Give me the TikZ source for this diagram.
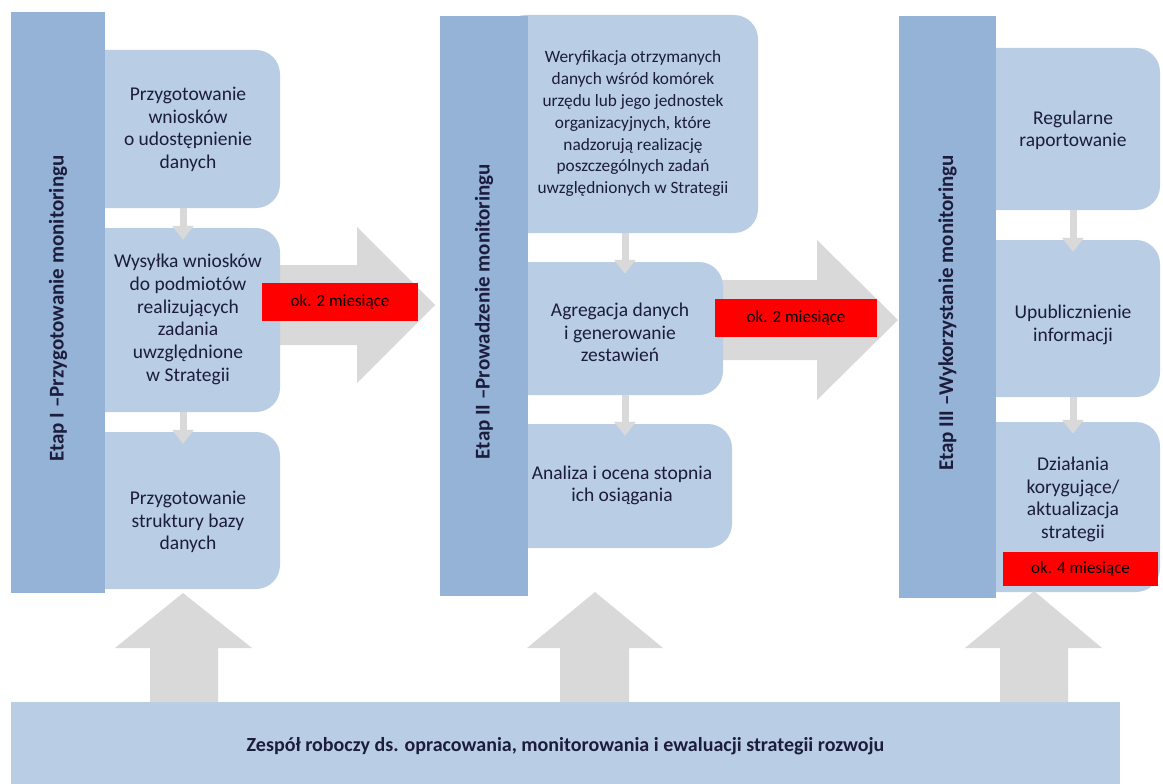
\documentclass[tikz,border=0pt]{standalone}
\usepackage{fontspec}
\setmainfont{Carlito}
\usetikzlibrary{arrows.meta}
\definecolor{stagec}{HTML}{95B3D7}
\definecolor{boxc}{HTML}{B9CDE5}
\definecolor{arrc}{HTML}{D9D9D9}
\definecolor{txtc}{HTML}{1C1C3C}
\definecolor{redc}{HTML}{FF0000}
% text block: leading kern #1 shifts it by #1/2 sideways, #2 raises it
\newcommand\boxtext[3]{\hspace*{#1}\raisebox{#2}[\height][\depth]{\begin{tabular}{@{}c@{}}#3\end{tabular}}}
\tikzset{
  stagebar/.style={fill=stagec, draw=none, rotate=90, inner sep=0pt, text=txtc,
    font=\bfseries\fontsize{21}{25}\selectfont},
  stepbox/.style={fill=boxc, draw=none, rounded corners=24pt, inner sep=0pt,
    text=txtc, font=\fontsize{19.5}{22.8}\selectfont},
  smallbox/.style={stepbox, font=\fontsize{17.3}{21.8}\selectfont},
  redlabel/.style={fill=redc, draw=none, inner sep=0pt, text=black,
    font=\fontsize{17}{20}\selectfont},
  smallarrow/.style={draw=arrc, line width=7pt, -{Triangle[width=21pt,length=14pt]}, shorten >=-12pt},
  bigarrow/.style={fill=arrc, draw=none},
  teambar/.style={fill=boxc, draw=none, inner sep=0pt, text=txtc,
    font=\bfseries\fontsize{20}{24}\selectfont},
}
\begin{document}
\begin{tikzpicture}[x=1pt,y=-1pt]
\useasboundingbox (0,0) rectangle (1163,784);
\fill[white] (0,0) rectangle (1163,784);
% big block arrows between stages
\fill[bigarrow] (270,265) -- (357,265) -- (357,227) -- (435,305) -- (357,383) -- (357,345) -- (270,345) -- cycle;
\fill[bigarrow] (700,280) -- (817,280) -- (817,240) -- (898,320) -- (817,400) -- (817,360) -- (700,360) -- cycle;
% stage I boxes (left part hidden behind the stage bar)
\node[stepbox, minimum width=201pt, minimum height=158pt] (L1) at (179.5,129) {\boxtext{17pt}{-1pt}{Przygotowanie\\wniosków\\o udostępnienie\\danych}};
\node[stepbox, minimum width=201pt, minimum height=184pt] (L2) at (179.5,320) {\boxtext{17pt}{0pt}{Wysyłka wniosków\\do podmiotów\\realizujących\\zadania\\uwzględnione\\w Strategii}};
\node[stepbox, minimum width=201pt, minimum height=157pt] (L3) at (179.5,510.5) {\boxtext{17pt}{-12pt}{Przygotowanie\\struktury bazy\\danych}};
% stage II boxes
\node[smallbox, minimum width=256pt, minimum height=218pt] (M1) at (630,124) {\boxtext{6pt}{0pt}{Weryfikacja otrzymanych\\danych wśród komórek\\urzędu lub jego jednostek\\organizacyjnych, które\\nadzorują realizację\\poszczególnych zadań\\uwzględnionych w Strategii}};
\node[stepbox, minimum width=221pt, minimum height=133pt] (M2) at (612.5,328.5) {\boxtext{15pt}{-6pt}{Agregacja danych\\i generowanie\\zestawień}};
\node[stepbox, minimum width=230pt, minimum height=124pt] (M3) at (617,486) {\boxtext{10pt}{0pt}{Analiza i ocena stopnia\\ich osiągania}};
% stage III boxes
\node[stepbox, minimum width=190pt, minimum height=162pt] (R1) at (1065,129) {\boxtext{16pt}{-2pt}{Regularne\\raportowanie}};
\node[stepbox, minimum width=190pt, minimum height=157pt] (R2) at (1065,318.5) {\boxtext{16pt}{-7pt}{Upublicznienie\\informacji}};
\node[stepbox, minimum width=190pt, minimum height=170pt] (R3) at (1065,507) {\boxtext{16pt}{7pt}{Działania\\korygujące/\\aktualizacja\\strategii}};
% stage bars
\node[stagebar, minimum width=581pt, minimum height=94pt] (S1) at (58,302.5) {\hspace*{-12pt}Etap I –Przygotowanie monitoringu};
\node[stagebar, minimum width=580pt, minimum height=88pt] (S2) at (484,306) {\hspace*{-11pt}Etap II –Prowadzenie monitoringu};
\node[stagebar, minimum width=582pt, minimum height=97pt] (S3) at (947.5,307) {\hspace*{-12pt}Etap III –Wykorzystanie monitoringu};
% small arrows between steps
\draw[smallarrow] (183,0 |- L1.south) -- (183,0 |- L2.north);
\draw[smallarrow] (183,0 |- L2.south) -- (183,0 |- L3.north);
\draw[smallarrow] (625,0 |- M1.south) -- (625,0 |- M2.north);
\draw[smallarrow] (625,0 |- M2.south) -- (625,0 |- M3.north);
\draw[smallarrow] (1073,0 |- R1.south) -- (1073,0 |- R2.north);
\draw[smallarrow] (1073,0 |- R2.south) -- (1073,0 |- R3.north);
% red duration labels
\node[redlabel, minimum width=156pt, minimum height=38pt] (D1) at (340,302) {ok. 2 miesiące};
\node[redlabel, minimum width=162pt, minimum height=38pt] (D2) at (796,318) {ok. 2 miesiące};
\node[redlabel, minimum width=155pt, minimum height=34pt] (D3) at (1080.5,569) {ok. 4 miesiące};
% bottom bar
\node[teambar, minimum width=1109pt, minimum height=88pt] (T) at (565.5,746) {Zespół roboczy ds. opracowania, monitorowania i ewaluacji strategii rozwoju};
% up arrows
\fill[bigarrow] (150,702) -- (150,648) -- (115,648) -- (183,593) -- (252,648) -- (218,648) -- (218,702) -- cycle;
\fill[bigarrow] (560,702) -- (560,648) -- (527,648) -- (595,592) -- (663,648) -- (629,648) -- (629,702) -- cycle;
\fill[bigarrow] (1000,702) -- (1000,648) -- (965,648) -- (1034,591) -- (1102,648) -- (1068,648) -- (1068,702) -- cycle;
\end{tikzpicture}
\end{document}
